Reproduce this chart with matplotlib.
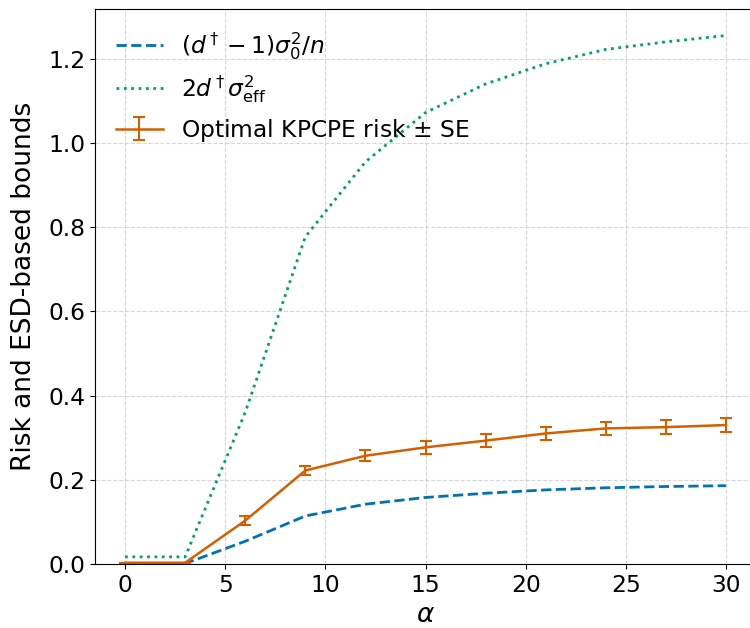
import numpy as np
import matplotlib
matplotlib.use('Agg')
import matplotlib.pyplot as plt

# Data
alpha = [0, 3, 6, 9, 12, 15, 18, 21, 24, 27, 30]
lower_bound = [0.0, 0.001, 0.054, 0.114, 0.142, 0.158, 0.168, 0.176, 0.181, 0.184, 0.186]
upper_bound = [0.017, 0.017, 0.36, 0.777, 0.955, 1.072, 1.140, 1.188, 1.222, 1.240, 1.255]
risk = [0.003, 0.003, 0.103, 0.222, 0.257, 0.277, 0.293, 0.310, 0.322, 0.325, 0.330]
risk_se = [0.0, 0.0, 0.0115, 0.010, 0.0127, 0.0147, 0.015, 0.015, 0.016, 0.016, 0.0166]

fig = plt.figure(figsize=(7.5, 6.28), dpi=100)
ax = fig.add_axes([95 / 750, 1 - 564 / 628, 661 / 750, 555 / 628])

ax.plot(alpha, lower_bound, '--', color='#0072B2', linewidth=2,
        label=r'$(d^\dagger - 1)\sigma_0^2/n$')
ax.plot(alpha, upper_bound, ':', color='#009E73', linewidth=2,
        label=r'$2d^\dagger\sigma_{\mathrm{eff}}^2$')
ax.errorbar(alpha, risk, yerr=risk_se, color='#D55E00', linewidth=1.8,
            capsize=4, elinewidth=1.5, capthick=1.5,
            label=r'Optimal KPCPE risk $\pm$ SE')

ax.set_xlim(-1.5, 31.5)
ax.set_ylim(0, 1.318)
ax.set_xlabel(r'$\alpha$', fontsize=19)
ax.set_ylabel('Risk and ESD-based bounds', fontsize=19, labelpad=8)
ax.tick_params(labelsize=16.8)
ax.grid(True, linestyle='--', color='#cccccc', alpha=0.8)
ax.legend(loc='upper left', fontsize=16.8, frameon=False)

fig.savefig('out.png', dpi=100)
